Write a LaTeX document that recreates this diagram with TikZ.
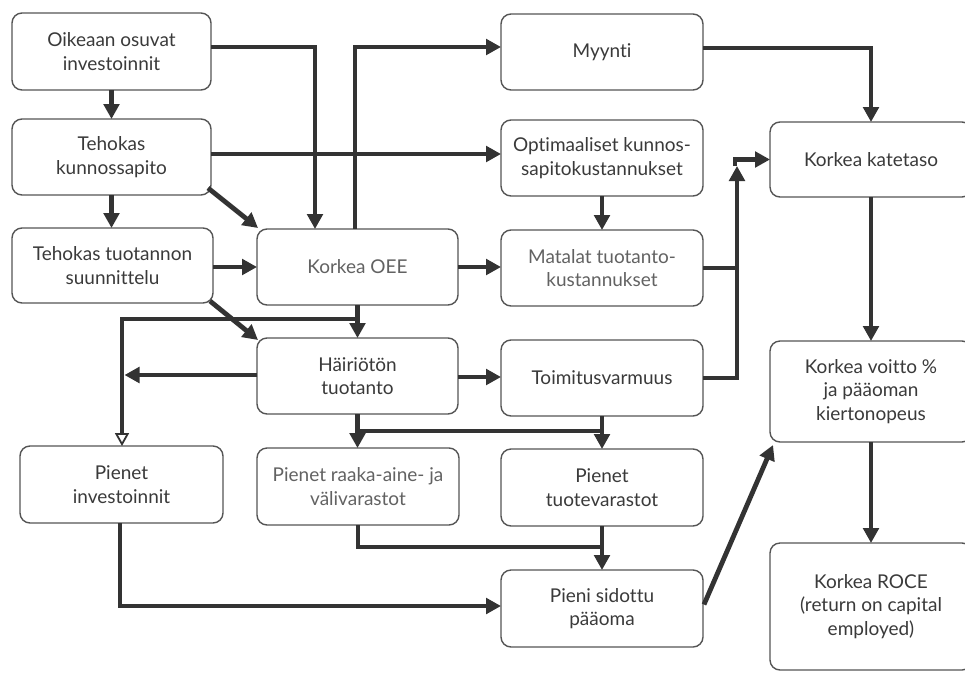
\documentclass[tikz,border=0pt]{standalone}
\usepackage{fontspec}
\setmainfont{Lato}[Ligatures=NoCommon]
\usetikzlibrary{arrows.meta,calc}
\definecolor{ink}{HTML}{333333}
\definecolor{frame}{HTML}{555555}
\definecolor{txt}{HTML}{3A3A3A}
\definecolor{txtlight}{HTML}{626262}
\begin{document}
\begin{tikzpicture}[x=1pt,y=-1pt,
  box/.style={draw=frame, line width=1.4pt, rounded corners=10pt, align=center,
    inner sep=0pt, outer sep=0pt, text=txt, font=\fontsize{19}{23.5}\selectfont},
  light/.style={text=txtlight},
  sz/.style 2 args={minimum width=#1pt, minimum height=#2pt},
  line/.style={draw=ink, line width=4.8pt},
  arr/.style={line, -{Triangle[length=15pt,width=15.5pt]}},
  openarr/.style={line, -{Triangle[open, fill=white, line width=1.8pt, length=13pt, width=14pt]}}]
\clip (0,0) rectangle (965,672);
\fill[white] (0,0) rectangle (965,672);

% boxes
\node[box, sz={199}{77}] (oik) at (111.5,51.5) {Oikeaan osuvat\\investoinnit};
\node[box, sz={199}{76}] (teh) at (111.5,157) {Tehokas\\kunnossapito};
\node[box, sz={201}{75}] (tts) at (112.5,265.5) {Tehokas tuotannon\\suunnittelu};
\node[box, sz={203}{77}] (pinv) at (121.5,484.5) {Pienet\\investoinnit};
\node[box, light, sz={201}{76}] (oee) at (357.5,267) {Korkea OEE};
\node[box, sz={201}{76}] (hai) at (357.5,376) {Häiriötön\\tuotanto};
\node[box, light, sz={202}{77}] (raaka) at (358,486.5) {Pienet raaka-aine- ja\\välivarastot};
\node[box, sz={202}{76}] (myy) at (602,52) {Myynti};
\node[box, sz={202}{76}] (opt) at (602,158) {Optimaaliset kunnos-\\sapitokustannukset};
\node[box, light, sz={202}{76}] (mat) at (602,268) {Matalat tuotanto-\\kustannukset};
\node[box, sz={202}{76}] (toi) at (602,378) {Toimitusvarmuus};
\node[box, sz={202}{77}] (tuo) at (602,487.5) {Pienet\\tuotevarastot};
\node[box, sz={202}{77}] (sid) at (602,608.5) {Pieni sidottu\\pääoma};
\node[box, sz={202}{75}] (kat) at (871,159.5) {Korkea katetaso};
\node[box, sz={202}{101}] (voi) at (871,391.5) {Korkea voitto \%\\ja pääoman\\kiertonopeus};
\node[box, sz={202}{127}] (roc) at (871,606.5) {Korkea ROCE\\(return on capital\\employed)};

% bend points
\coordinate (p2) at (315,47);
\coordinate (h3) at (0,154);
\coordinate (p6) at (355,47);
\coordinate (h7) at (0,267);
\coordinate (j10) at (357.5,319);
\coordinate (c10) at (122,319);
\coordinate (h11) at (0,375);
\coordinate (v14) at (737,0);
\coordinate (t14) at (737,166);
\coordinate (k15) at (735,166);
\coordinate (p16) at (871,48);
\coordinate (h19) at (0,377);
\coordinate (j21) at (357.5,431);
\coordinate (j22) at (358,547);
\coordinate (c23) at (120,606);

% connectors
\draw[arr] (oik.south) -- (oik.south |- teh.north);
\draw[arr] (oik.east |- p2) -- (p2) -- (p2 |- oee.north);
\draw[arr] (teh.east |- h3) -- (opt.west |- h3);
\draw[arr] ($(teh.south east)+(-3,-7)$) -- ($(oee.north west)+(1,-1)$);
\draw[arr] (teh.south) -- (teh.south |- tts.north);
\draw[arr] (oee.north -| p6) -- (p6) -- (myy.west |- p6);
\draw[arr] (tts.east |- h7) -- (oee.west |- h7);
\draw[arr] ($(tts.south east)+(-3,-2)$) -- ($(hai.north west)+(1,2)$);
\draw[arr] (oee.south) -- (hai.north);
\draw[openarr] (j10) -- (c10) -- (c10 |- pinv.north);
\draw[arr] (hai.west |- h11) -- ($(c10 |- h11)+(2.5,0)$);
\draw[arr] (oee.east |- h7) -- (mat.west |- h7);
\draw[arr] (opt.south) -- (mat.north);
\draw[line] (mat.east) -- (v14 |- mat.east);
\draw[arr] (toi.east) -- (v14 |- toi.east) -- (t14);
\draw[arr] (k15) -- (k15 |- kat.west) -- (kat.west);
\draw[arr] (myy.east |- p16) -- (p16) -- (kat.north);
\draw[arr] (kat.south) -- (voi.north);
\draw[arr] (voi.south) -- (roc.north);
\draw[arr] (hai.east |- h19) -- (toi.west |- h19);
\draw[arr] (hai.south) -- (hai.south |- raaka.north);
\draw[line] (j21) -- (j21 -| tuo.north);
\draw[arr] (toi.south) -- (tuo.north);
\draw[line] (raaka.south) -- (j22) -- (j22 -| sid.north);
\draw[arr] (tuo.south) -- (sid.north);
\draw[arr] (pinv.south -| c23) -- (c23) -- (sid.west |- c23);
\draw[arr] ($(sid.east)+(1,-4)$) -- ($(voi.south west)+(3,3)$);
\end{tikzpicture}
\end{document}
